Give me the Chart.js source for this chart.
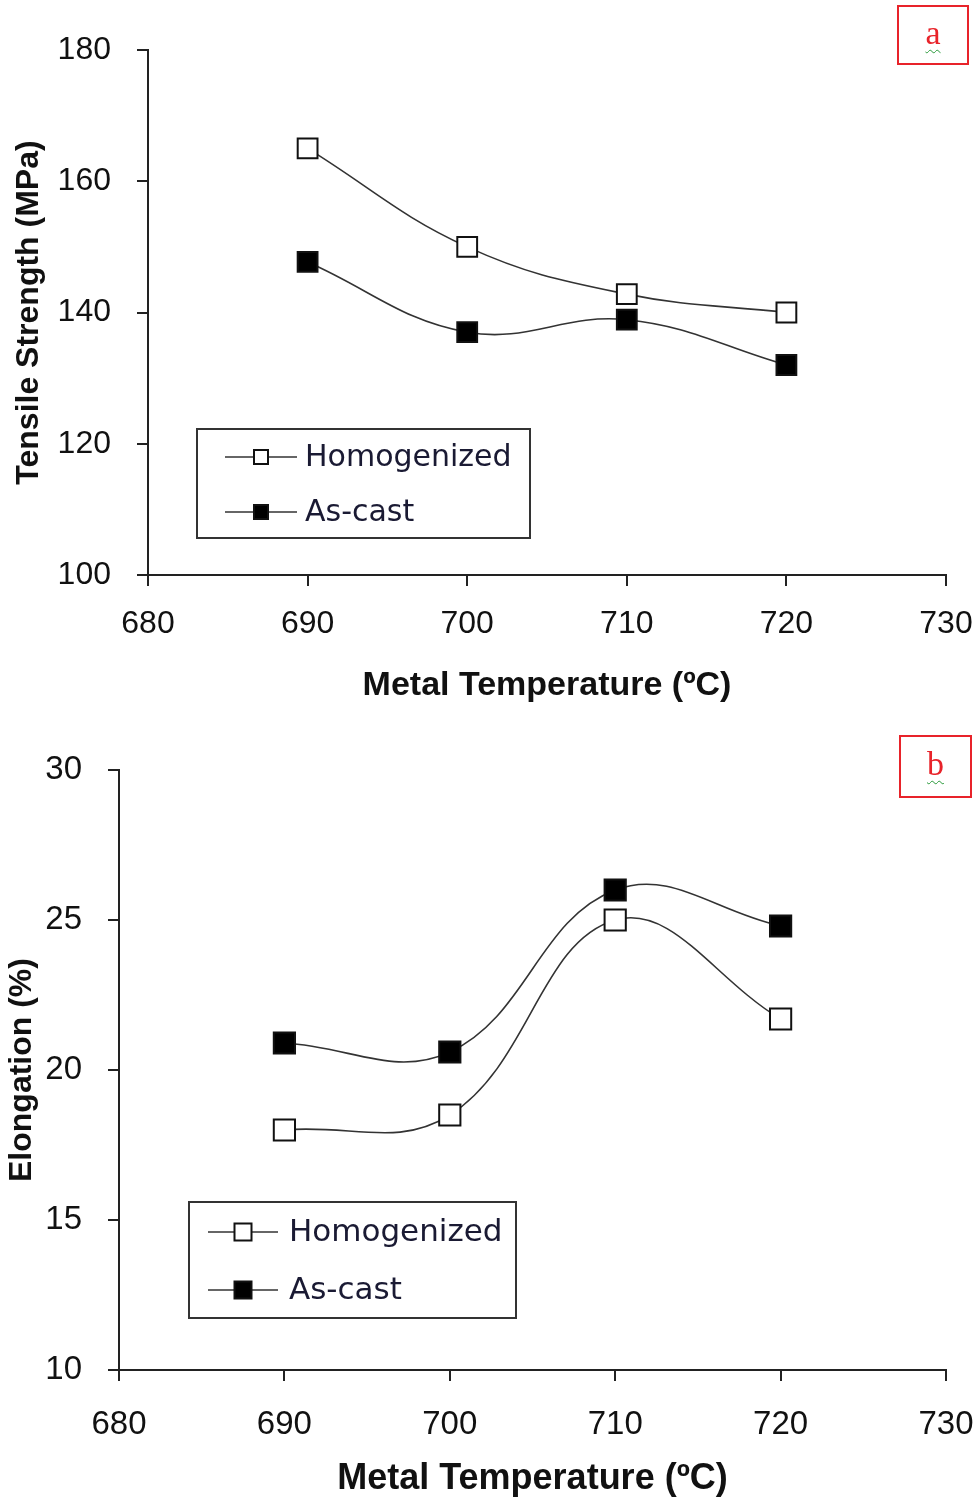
<!DOCTYPE html>
<html>
<head>
<meta charset="utf-8">
<script src="https://cdn.jsdelivr.net/npm/chart.js@4"></script>
<style>
  body { margin: 0; background: #fff; width: 980px; height: 1501px; position: relative; overflow: hidden; }
  canvas { position: absolute; left: 0; }
  #graficoA { top: 0; }
  #graficoB { top: 720px; }
  .tag { position: absolute; border: 2px solid #e8232a; color: #e8232a; font-family: "Liberation Serif", serif; font-size: 34px; text-align: center; box-sizing: border-box; }
  .tag span { text-decoration: underline wavy #2a9a3a; text-decoration-thickness: 1px; text-underline-offset: 5px; }
</style>
</head>
<body>
<canvas id="graficoA" width="980" height="720"></canvas>
<canvas id="graficoB" width="980" height="781"></canvas>
<div class="tag" style="left:897px;top:5px;width:72px;height:60px;line-height:52px;"><span>a</span></div>
<div class="tag" style="left:899px;top:735px;width:73px;height:63px;line-height:54px;"><span>b</span></div>
<script>
// temperaturas (°C)
const temperaturas = [690, 700, 710, 720];
const xTicks = [680, 690, 700, 710, 720, 730];

// (a) resistencia a tracao (MPa)
const resistHomog = [165, 150, 142.8, 140];
const resistBruto = [147.7, 137, 138.9, 132];
const yTicksA = [100, 120, 140, 160, 180];

// (b) alongamento (%)
const alongHomog = [18, 18.5, 25, 21.7];
const alongBruto = [20.9, 20.6, 26, 24.8];
const yTicksB = [10, 15, 20, 25, 30];

const serieNomes = ['Homogenized', 'As-cast'];

function pontos(vals) {
  return vals.map((v, i) => ({ x: temperaturas[i], y: v }));
}

// legenda desenhada dentro da area do grafico
const legendaBox = {
  id: 'legendaBox',
  afterDraw(chart, args, opts) {
    const ctx = chart.ctx;
    ctx.save();
    ctx.strokeStyle = '#333';
    ctx.lineWidth = 2;
    ctx.strokeRect(opts.x, opts.y, opts.w, opts.h);
    chart.data.datasets.forEach((ds, i) => {
      const cy = opts.rows[i];
      ctx.beginPath();
      ctx.moveTo(opts.lx1, cy);
      ctx.lineTo(opts.lx2, cy);
      ctx.strokeStyle = '#333';
      ctx.lineWidth = 1.5;
      ctx.stroke();
      const s = opts.m;
      const mx = (opts.lx1 + opts.lx2) / 2;
      ctx.fillStyle = ds.pointBackgroundColor;
      ctx.fillRect(mx - s / 2, cy - s / 2, s, s);
      ctx.lineWidth = 2;
      ctx.strokeStyle = '#111';
      ctx.strokeRect(mx - s / 2, cy - s / 2, s, s);
      ctx.fillStyle = '#1a1a33';
      ctx.font = opts.font;
      ctx.textBaseline = 'middle';
      ctx.fillText(ds.label, opts.tx, cy + 1);
    });
    ctx.restore();
  }
};

function montar(el, cfg) {
  const ds = [cfg.homog, cfg.bruto].map((vals, i) => ({
    label: serieNomes[i],
    data: pontos(vals),
    borderColor: '#333',
    borderWidth: 1.6,
    pointStyle: 'rect',
    pointRadius: cfg.raio,
    pointBorderWidth: 2,
    pointBorderColor: '#111',
    pointBackgroundColor: i === 0 ? '#fff' : '#000',
    tension: 0.4
  }));

  new Chart(el, {
    type: 'line',
    data: { datasets: ds },
    options: {
      responsive: false,
      animation: false,
      layout: { padding: { top: 50, right: 34, left: 0, bottom: 0 } },
      plugins: {
        legend: { display: false },
        tooltip: { enabled: false },
        legendaBox: cfg.legenda
      },
      scales: {
        x: {
          type: 'linear',
          min: xTicks[0],
          max: xTicks[xTicks.length - 1],
          afterBuildTicks: s => { s.ticks = xTicks.map(v => ({ value: v })); },
          afterFit: s => { s.height = cfg.xAltura; s.paddingLeft = 0; s.paddingRight = 0; },
          border: { color: '#222', width: 2 },
          grid: { drawOnChartArea: false, tickLength: 11, color: '#222', lineWidth: 2 },
          ticks: { padding: cfg.xPad, color: '#111', font: { family: 'Liberation Sans, Arial', size: cfg.fonte } },
          title: {
            display: true,
            text: 'Metal Temperature (\u00baC)',
            color: '#111',
            font: { family: 'Liberation Sans, Arial', size: cfg.tituloX, weight: 'bold' },
            padding: { top: 0, bottom: cfg.tituloXPad }
          }
        },
        y: {
          min: cfg.yTicks[0],
          max: cfg.yTicks[cfg.yTicks.length - 1],
          afterBuildTicks: s => { s.ticks = cfg.yTicks.map(v => ({ value: v })); },
          afterFit: s => { s.width = cfg.yLargura; s.paddingTop = 0; s.paddingBottom = 0; },
          border: { color: '#222', width: 2 },
          grid: { drawOnChartArea: false, tickLength: 11, color: '#222', lineWidth: 2 },
          ticks: { padding: 26, color: '#111', font: { family: 'Liberation Sans, Arial', size: cfg.fonte } },
          title: {
            display: true,
            text: cfg.tituloY,
            color: '#111',
            font: { family: 'Liberation Sans, Arial', size: 32, weight: 'bold' },
            padding: { top: cfg.tituloYPad, bottom: 0 }
          }
        }
      }
    },
    plugins: [legendaBox]
  });
}

montar(document.getElementById('graficoA'), {
  homog: resistHomog, bruto: resistBruto, yTicks: yTicksA,
  tituloY: 'Tensile Strength (MPa)', raio: 14,
  xAltura: 145, yLargura: 148, fonte: 32, xPad: 19, tituloX: 34, tituloXPad: 14, tituloYPad: 10,
  legenda: { x: 197, y: 429, w: 333, h: 109, rows: [457, 512], lx1: 225, lx2: 297, m: 14, tx: 305, font: '30px "DejaVu Sans"' }
});

montar(document.getElementById('graficoB'), {
  homog: alongHomog, bruto: alongBruto, yTicks: yTicksB,
  tituloY: 'Elongation (%)', raio: 15,
  xAltura: 131, yLargura: 119, fonte: 33, xPad: 24, tituloX: 36, tituloXPad: 0, tituloYPad: 3,
  legenda: { x: 189, y: 482, w: 327, h: 116, rows: [512, 570], lx1: 208, lx2: 278, m: 17, tx: 289, font: '31px "DejaVu Sans"' }
});
</script>
</body>
</html>
